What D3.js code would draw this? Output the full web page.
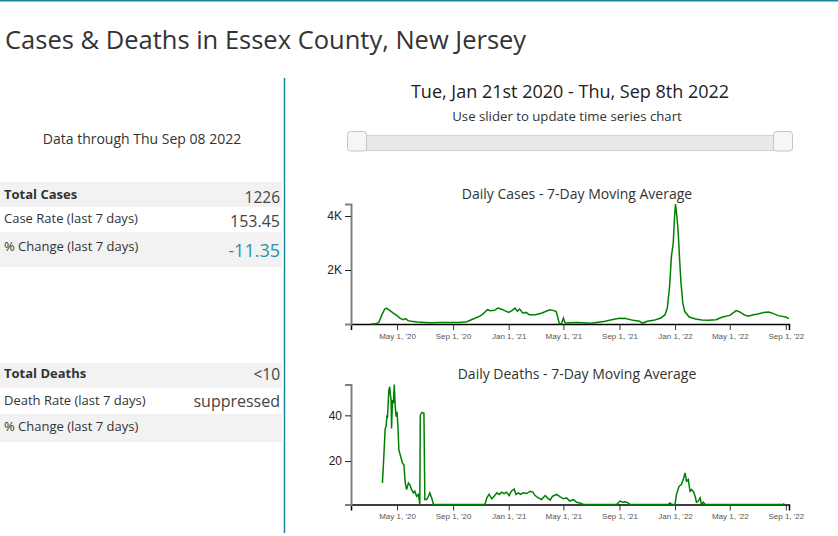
<!DOCTYPE html>
<html><head><meta charset="utf-8">
<script src="https://cdn.jsdelivr.net/npm/d3@7"></script>
<style>
body{margin:0;background:#fff;font-family:"Open Sans",sans-serif;}
svg{display:block}
</style></head><body>
<svg id="c" width="838" height="536"></svg>
<script>
// ---------- data ----------
const pageTitle = "Cases & Deaths in Essex County, New Jersey";
const dataThrough = "Data through Thu Sep 08 2022";
const rangeLabel = "Tue, Jan 21st 2020 - Thu, Sep 8th 2022";
const sliderHint = "Use slider to update time series chart";
const dateStart = "2020-01-21", dateEnd = "2022-09-08";

const caseStatLabels = ["Total Cases", "Case Rate (last 7 days)", "% Change (last 7 days)"];
const caseStatValues = ["1226", "153.45", "-11.35"];
const deathStatLabels = ["Total Deaths", "Death Rate (last 7 days)", "% Change (last 7 days)"];
const deathStatValues = ["<10", "suppressed", ""];

const caseTitle = "Daily Cases - 7-Day Moving Average";
const deathTitle = "Daily Deaths - 7-Day Moving Average";
const caseTicks = [2000, 4000];
const deathTicks = [20, 40];

const caseDates = ["2020-03-05","2020-03-15","2020-03-22","2020-03-29","2020-04-04","2020-04-08","2020-04-15","2020-04-22","2020-05-01","2020-05-08","2020-05-15","2020-05-20","2020-05-25","2020-06-01","2020-06-15","2020-07-01","2020-07-15","2020-08-01","2020-08-15","2020-09-01","2020-09-15","2020-10-01","2020-10-15","2020-11-01","2020-11-08","2020-11-15","2020-11-22","2020-12-01","2020-12-08","2020-12-15","2020-12-22","2021-01-01","2021-01-08","2021-01-15","2021-01-20","2021-01-25","2021-02-01","2021-02-08","2021-02-15","2021-03-01","2021-03-15","2021-04-01","2021-04-10","2021-04-15","2021-04-18","2021-04-22","2021-04-27","2021-05-01","2021-05-05","2021-05-15","2021-06-01","2021-07-01","2021-08-01","2021-08-15","2021-09-01","2021-09-15","2021-10-01","2021-10-15","2021-10-22","2021-11-01","2021-11-15","2021-12-01","2021-12-10","2021-12-15","2021-12-20","2021-12-24","2021-12-28","2021-12-31","2022-01-02","2022-01-05","2022-01-08","2022-01-11","2022-01-14","2022-01-18","2022-01-22","2022-02-01","2022-02-15","2022-03-01","2022-03-15","2022-04-01","2022-04-15","2022-05-01","2022-05-10","2022-05-15","2022-05-22","2022-06-01","2022-06-10","2022-06-20","2022-07-01","2022-07-15","2022-07-25","2022-08-01","2022-08-15","2022-09-01","2022-09-08"];
const caseValues = [0,5,60,350,555,580,505,410,310,210,160,200,125,100,75,60,50,60,60,60,60,85,185,310,410,530,495,505,590,555,505,430,495,590,470,555,410,430,345,345,410,530,495,460,300,10,20,220,30,50,60,25,100,160,210,200,135,100,35,100,135,220,345,590,1395,2505,3000,3990,4445,3990,3370,2385,1520,780,470,260,185,150,135,160,260,320,430,495,455,345,285,335,370,430,445,410,310,260,200];

const deathDates = ["2020-03-30","2020-04-02","2020-04-05","2020-04-07","2020-04-09","2020-04-10","2020-04-13","2020-04-15","2020-04-16","2020-04-18","2020-04-19","2020-04-21","2020-04-23","2020-04-25","2020-04-27","2020-04-29","2020-05-01","2020-05-03","2020-05-05","2020-05-09","2020-05-13","2020-05-16","2020-05-19","2020-05-22","2020-05-26","2020-05-29","2020-06-02","2020-06-06","2020-06-09","2020-06-13","2020-06-17","2020-06-19","2020-06-20","2020-06-21","2020-06-25","2020-06-29","2020-07-01","2020-07-05","2020-07-09","2020-07-12","2020-07-16","2020-07-20","2020-11-10","2020-11-14","2020-11-19","2020-11-25","2020-11-30","2020-12-06","2020-12-11","2020-12-17","2020-12-22","2020-12-27","2021-01-02","2021-01-07","2021-01-13","2021-01-17","2021-01-22","2021-01-27","2021-02-02","2021-02-09","2021-02-17","2021-02-23","2021-02-28","2021-03-07","2021-03-14","2021-03-22","2021-03-27","2021-04-02","2021-04-07","2021-04-16","2021-04-24","2021-05-01","2021-05-08","2021-05-15","2021-05-23","2021-05-30","2021-06-06","2021-06-14","2021-08-26","2021-09-02","2021-09-08","2021-09-13","2021-09-20","2021-09-24","2021-12-17","2021-12-21","2021-12-25","2022-01-01","2022-01-04","2022-01-10","2022-01-15","2022-01-19","2022-01-23","2022-01-26","2022-01-30","2022-02-03","2022-02-06","2022-02-10","2022-02-14","2022-02-17","2022-02-21","2022-02-25","2022-02-28","2022-03-04","2022-03-08","2022-08-27","2022-08-28"];
const deathValues = [10.4,22.0,34.3,35.1,40.1,38.7,51.0,52.5,49.6,46.7,34.3,46.7,45.2,53.5,43.8,39.4,41.6,35.1,24.9,22.0,19.1,18.4,10.4,7.5,10.4,9.7,7.5,6.1,6.8,4.6,5.4,2.5,1.0,40.1,41.3,40.9,3.2,3.2,4.6,6.1,3.9,1.0,1.0,3.9,5.4,3.5,4.6,6.1,5.4,6.4,5.8,6.4,4.9,6.8,7.8,5.4,6.1,5.4,6.1,5.8,6.8,6.4,4.9,3.9,3.2,4.9,3.9,2.9,4.6,5.4,4.3,3.5,3.9,2.5,3.2,2.0,1.7,1.0,1.0,2.5,2.0,2.2,1.7,1.0,1.0,1.7,1.0,1.0,5.4,9.0,9.7,11.9,14.8,11.2,11.9,6.8,7.5,6.8,4.6,2.0,2.5,3.9,1.0,2.0,1.0,1.0,1.5];

// ---------- drawing ----------
const parse = d3.timeParse("%Y-%m-%d");
const svg = d3.select("#c");
const teal = "#17889a";

svg.append("rect").attr("x",0).attr("y",0).attr("width",838).attr("height",1.5).attr("fill",teal);
svg.append("text").attr("x",5).attr("y",49).attr("font-size",25.5).attr("font-weight",400)
  .attr("fill","#333").text(pageTitle);
svg.append("line").attr("x1",284.5).attr("x2",284.5).attr("y1",78).attr("y2",533)
  .attr("stroke",teal).attr("stroke-width",1.5);
svg.append("text").attr("x",142).attr("y",144).attr("text-anchor","middle")
  .attr("font-size",14).attr("fill","#333").text(dataThrough);

function table(rows, labels, values, valueSizes, valueColors) {
  const g = svg.append("g");
  rows.forEach((r, i) => {
    if (i % 2 === 0) g.append("rect").attr("x",0).attr("y",r.top).attr("width",282).attr("height",r.h).attr("fill","#f2f2f2");
    g.append("text").attr("x",4).attr("y",r.lb).attr("font-size",13)
      .attr("font-weight", i === 0 ? 700 : 400).attr("fill","#333").text(labels[i]);
    g.append("text").attr("x",280).attr("y",r.vb).attr("text-anchor","end")
      .attr("font-size",valueSizes[i]).attr("fill",valueColors[i]).text(values[i]);
  });
}
table([{top:182,h:25,lb:199,vb:203},{top:207,h:25,lb:223,vb:226.5},{top:232,h:35,lb:251,vb:257}],
  caseStatLabels, caseStatValues, [15.5,16,18], ["#444","#444","#2a93a3"]);
table([{top:363,h:25,lb:378,vb:380},{top:388,h:26,lb:405,vb:406.5},{top:414,h:28,lb:431,vb:432}],
  deathStatLabels, deathStatValues, [15.5,16,16], ["#444","#444","#444"]);

// header + slider
svg.append("text").attr("x",570).attr("y",97.5).attr("text-anchor","middle")
  .attr("font-size",18).attr("fill","#222").text(rangeLabel);
svg.append("text").attr("x",567).attr("y",121).attr("text-anchor","middle")
  .attr("font-size",13.2).attr("fill","#333").text(sliderHint);
svg.append("rect").attr("x",350.5).attr("y",135.5).attr("width",441).attr("height",15)
  .attr("rx",2).attr("fill","#e9e9e9").attr("stroke","#d3d3d3");
[347, 773].forEach(x => svg.append("rect").attr("x",x+0.5).attr("y",131.5).attr("width",19).attr("height",19.5)
  .attr("rx",3).attr("fill","#f6f6f6").attr("stroke","#c5c5c5"));

// charts
const x = d3.scaleTime().domain([parse(dateStart), parse(dateEnd)]).range([351, 789]);

function chart(top, bottom, dates, values, ticks, fmt, title, titleY) {
  const data = dates.map((d, i) => ({date: parse(d), value: values[i]}));
  const y = d3.scaleLinear().domain(d3.extent(values)).range([bottom, top]);
  svg.append("text").attr("x",577).attr("y",titleY).attr("text-anchor","middle")
    .attr("font-size",14).attr("fill","#333").text(title);
  const xa = svg.append("g").attr("transform",`translate(0,${bottom})`)
    .call(d3.axisBottom(x).ticks(d3.timeMonth.every(4)).tickFormat(d3.timeFormat("%b %-d, '%y")));
  xa.select(".domain").attr("stroke","#000").attr("stroke-width",1.5);
  xa.selectAll(".tick line").attr("stroke","#333");
  xa.selectAll("text").attr("font-family","'Liberation Sans',Arial,sans-serif").attr("font-size",8).attr("fill","#555");
  const ya = svg.append("g").attr("transform","translate(351,0)")
    .call(d3.axisLeft(y).tickValues(ticks).tickFormat(fmt));
  ya.select(".domain").attr("stroke","#808080").attr("stroke-width",2);
  ya.selectAll(".tick line").attr("stroke","#222");
  ya.selectAll("text").attr("font-family","'Liberation Sans',Arial,sans-serif").attr("font-size",12).attr("fill","#222");
  svg.append("path").datum(data).attr("fill","none").attr("stroke","#008000").attr("stroke-width",1.5)
    .attr("d", d3.line().x(d => x(d.date)).y(d => y(d.value)));
}
chart(204, 324, caseDates, caseValues, caseTicks, d => (d/1000) + "K", caseTitle, 198.5);
chart(384.5, 504.5, deathDates, deathValues, deathTicks, d3.format("d"), deathTitle, 379);
</script>
</body></html>
